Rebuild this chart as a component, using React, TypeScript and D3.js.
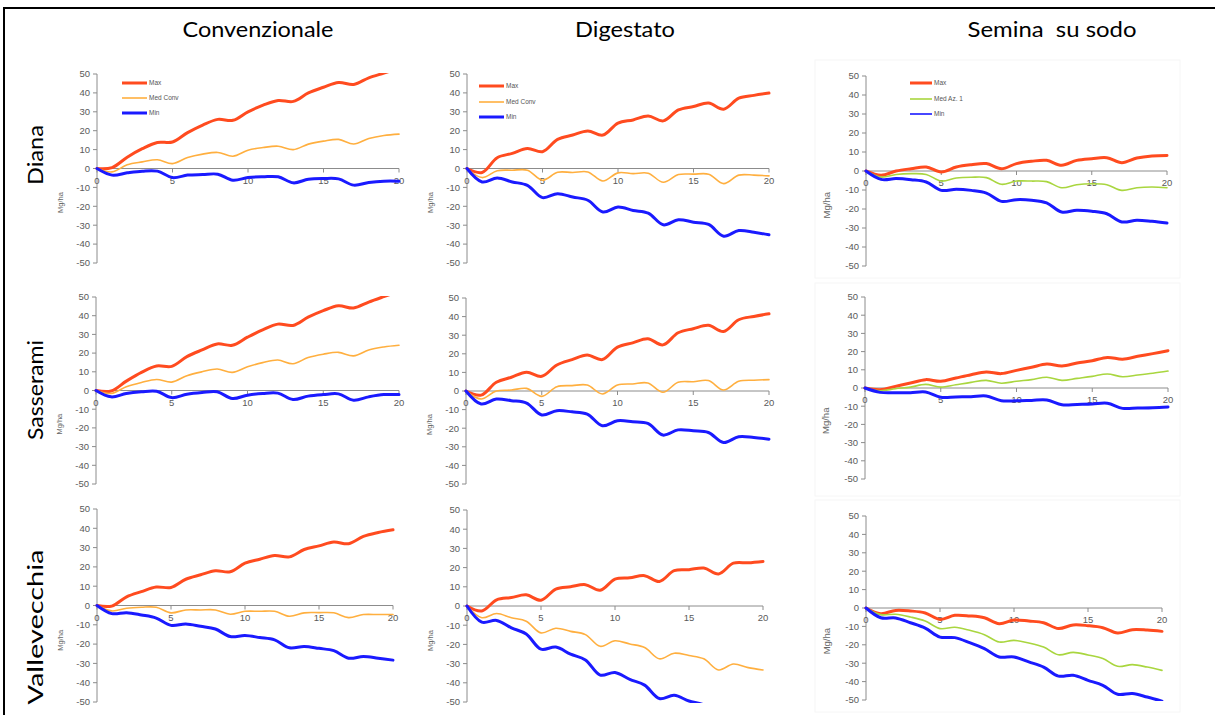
import React from "react";
import * as d3 from "d3";

// ---------- DATA ----------
const years = [0, 1, 2, 3, 4, 5, 6, 7, 8, 9, 10, 11, 12, 13, 14, 15, 16, 17, 18, 19, 20];
const columnTitles = ["Convenzionale", "Digestato", "Semina  su sodo"];
const rowTitles = ["Diana", "Sasserami", "Vallevecchia"];
const seriesNames = ["Max", "Med Conv", "Min"];
const seriesNamesSodo = ["Max", "Med Az. 1", "Min"];
const yTicks = [50, 40, 30, 20, 10, 0, -10, -20, -30, -40, -50];
const xTicks = [0, 5, 10, 15, 20];
const unitLabel = "Mg/ha";

// Diana
const dianaConvMax = [0, 0.5, 6, 10.5, 13.8, 14, 19, 23, 26, 25.5, 30, 33.5, 36, 35.5, 40, 43, 45.5, 44.5, 48, 50.5, 53];
const dianaConvMed = [0, -1.8, 2, 3.5, 4.6, 2.6, 5.8, 7.6, 8.5, 6.5, 9.7, 11.1, 11.8, 10, 12.9, 14.5, 15.4, 13, 15.9, 17.5, 18.2];
const dianaConvMin = [0, -3.5, -2.3, -1.4, -1.4, -4.8, -3.5, -3.2, -3, -6.2, -4.8, -4.4, -4.4, -7.6, -5.7, -5.3, -5.5, -8.8, -7.4, -6.7, -6.7];
const dianaDigMax = [0, -2.1, 5.7, 8, 10.6, 8.9, 15.4, 17.7, 19.9, 17.7, 24, 25.7, 27.8, 25.2, 31, 32.8, 34.6, 31.4, 37.2, 38.7, 39.9];
const dianaDigMed = [0, -4.8, -1.2, -0.9, -0.9, -6.2, -2, -2.1, -1.8, -6.6, -2.3, -2.7, -2.5, -7.3, -3.2, -3, -3, -8, -3.5, -3.5, -3.9];
const dianaDigMin = [0, -7.1, -5, -7.1, -8.9, -15.4, -13.3, -15.1, -16.8, -23, -20.4, -22.2, -23.6, -29.8, -27.1, -28.4, -29.6, -35.8, -32.8, -33.7, -35.1];
const dianaSodoMax = [0, -2.3, 0, 1.2, 2.1, -0.5, 2.1, 3.3, 3.9, 1.2, 3.9, 5.1, 5.6, 3, 5.6, 6.5, 7, 4.4, 6.8, 7.9, 8.2];
const dianaSodoMed = [0, -3.2, -1.8, -1.4, -1.8, -5.3, -3.7, -3.3, -3.5, -7, -5.3, -5.3, -5.6, -8.8, -7.2, -6.7, -7.2, -10.2, -8.8, -8.4, -8.8];
const dianaSodoMin = [0, -4.4, -4, -4.6, -5.8, -10.2, -9.6, -10.2, -11.6, -16, -15.1, -15.4, -16.8, -21.6, -20.7, -21.2, -22.5, -26.8, -25.9, -26.5, -27.4];

// Sasserami
const sasConvMax = [0, -0.3, 5, 9.7, 13.1, 12.9, 18.1, 21.7, 24.9, 24.2, 28.5, 32.4, 35.5, 34.8, 39.2, 42.7, 45.3, 44.1, 47.3, 50.2, 53];
const sasConvMed = [0, -1.6, 2, 4.3, 5.9, 4.5, 7.9, 10, 11.5, 9.7, 12.7, 14.9, 16.3, 14.3, 17.6, 19.4, 20.4, 18.5, 21.7, 23.3, 24.2];
const sasConvMin = [0, -3.4, -1.6, -0.7, -0.4, -3.8, -2, -1.1, -0.7, -4.3, -2.5, -1.6, -1.4, -4.8, -3, -2.2, -1.8, -5.2, -3.4, -2.2, -2.2];
const sasDigMax = [0, -2.2, 4.7, 7.4, 10.1, 7.9, 14, 16.9, 19.4, 16.9, 23.6, 25.9, 28.1, 24.8, 31.3, 33.5, 35.3, 32, 38.3, 40.1, 41.5];
const sasDigMed = [0, -4.3, 0, 0.5, 1.4, -2.9, 2.3, 2.9, 3.2, -1.6, 3.2, 3.8, 4.3, -0.7, 4.7, 5, 5.6, 0.5, 5.2, 5.8, 6.1];
const sasDigMin = [0, -7, -4.3, -5.2, -6.5, -12.9, -10.6, -11.2, -12.4, -18.7, -16, -16.5, -17.4, -23.7, -20.9, -21.4, -22.3, -27.7, -24.6, -25, -25.9];
const sasSodoMax = [0, -0.9, 0.9, 2.7, 4.6, 3.7, 5.5, 7.3, 8.8, 7.9, 9.7, 11.4, 13.2, 12.1, 13.7, 15, 16.8, 15.8, 17.4, 18.9, 20.5];
const sasSodoMed = [0, -1.5, -0.4, 0.5, 2, 0.5, 1.8, 3.1, 4.2, 2.6, 3.7, 4.6, 5.9, 4.2, 5.3, 6.4, 7.7, 6.2, 7.1, 8.1, 9.3];
const sasSodoMin = [0, -2.4, -2.6, -2.6, -2.2, -5.1, -4.9, -4.8, -4.4, -7, -7, -6.8, -6.6, -9.2, -9, -8.8, -8.4, -11.2, -11, -10.8, -10.4];

// Vallevecchia
const valConvMax = [0, -0.3, 4.5, 7.2, 9.6, 9.3, 13.6, 15.9, 18, 17.5, 21.9, 24, 25.9, 25.2, 29, 30.9, 32.9, 32, 35.8, 37.8, 39.2];
const valConvMed = [0, -2.8, -1.4, -0.9, -0.9, -3.8, -2.3, -2.3, -2.3, -4.5, -3, -3, -3, -5.6, -3.8, -3.7, -3.8, -6.3, -4.7, -4.7, -4.7];
const valConvMin = [0, -4.2, -3.7, -4.9, -6.5, -10.3, -9.6, -10.8, -12.2, -16.1, -15.6, -16.6, -17.8, -21.9, -21.2, -22.2, -23.4, -27.3, -26.4, -27.3, -28.3];
const valDigMax = [0, -2.6, 3.2, 4.4, 5.8, 3, 8.8, 10, 11.1, 8.2, 14, 14.7, 15.8, 12.8, 18.4, 18.9, 19.8, 16.7, 22.3, 22.5, 23.2];
const valDigMed = [0, -6.1, -3.9, -6.1, -7.9, -14, -11.6, -13.2, -14.9, -21, -18.1, -19.8, -21.6, -27.5, -24.6, -25.8, -27.5, -33.3, -30.2, -32.1, -33.3];
const valDigMin = [0, -8.4, -7.5, -11.4, -14.6, -22.5, -21.4, -25.1, -28.1, -36, -34.6, -38.2, -41.2, -48.2, -46.5, -49.5, -51.5, -57, -55, -57, -59];
const valSodoMax = [0, -3.1, -1.3, -1.6, -2.7, -6.2, -4, -4.3, -5.3, -8.5, -6.5, -7.1, -8, -11.2, -9.2, -9.6, -10.7, -13.6, -11.8, -12, -12.7];
const valSodoMed = [0, -3.6, -3.4, -4.9, -7.1, -11.2, -10.5, -12.1, -14.5, -18.5, -17.6, -19, -21.2, -25.4, -24.1, -25.5, -27.5, -31.7, -30.8, -32.1, -33.9];
const valSodoMin = [0, -5.3, -5.4, -8, -10.9, -15.8, -16.1, -18.8, -22.1, -26.6, -26.6, -29.3, -32.1, -37, -36.6, -39.3, -42, -46.9, -46.5, -48.4, -50.7];

const panelData = [
  [[dianaConvMax, dianaConvMed, dianaConvMin], [dianaDigMax, dianaDigMed, dianaDigMin], [dianaSodoMax, dianaSodoMed, dianaSodoMin]],
  [[sasConvMax, sasConvMed, sasConvMin], [sasDigMax, sasDigMed, sasDigMin], [sasSodoMax, sasSodoMed, sasSodoMin]],
  [[valConvMax, valConvMed, valConvMin], [valDigMax, valDigMed, valDigMin], [valSodoMax, valSodoMed, valSodoMin]],
];

// ---------- LAYOUT / STYLE ----------
const plotLeft = [[97, 467, 866], [96, 466, 865], [97, 467, 866]];
const plotRight = [[399, 769, 1167], [399, 769, 1168], [393, 763, 1162]];
const plotTop = [[74, 74, 76], [297, 298, 297], [509, 510, 516]];
const plotBottom = [[263, 263, 266], [484, 484, 479], [702, 702, 700]];
const colTitleWidths = [151, 100, 169];
const rowTitleLengths = [60, 100, 155];

const RED = "#ff4b1f";
const ORANGE = "#ffaf3f";
const BLUE = "#1a1aff";
const GREEN = "#a9d63f";
const AXIS = "#8c8c8c";
const TICKTXT = "#5a5a5a";
const tickFont = "'Liberation Sans', Arial, sans-serif";
const titleFont = "Lato, 'Open Sans', sans-serif";

function Panel({ r, c }: { r: number; c: number }) {
  const L = plotLeft[r][c], R = plotRight[r][c], T = plotTop[r][c], B = plotBottom[r][c];
  const x = d3.scaleLinear().domain([0, 20]).range([L, R]);
  const y = d3.scaleLinear().domain([-50, 50]).range([B, T]);
  const series = panelData[r][c];
  const colors = [RED, c === 2 ? GREEN : ORANGE, BLUE];
  const widths = [3, 1.6, 3];
  const line = d3
    .line<number>()
    .x((_, i) => x(years[i]))
    .y((d) => y(d))
    .curve(d3.curveCatmullRom.alpha(0.5));
  const clipId = `clip-${r}-${c}`;
  const names = c === 2 ? seriesNamesSodo : seriesNames;
  const legendX = c === 0 ? L + 25 : c === 1 ? L + 12 : L + 44;
  const legendY = c === 0 ? [T + 9, T + 24, T + 39] : c === 1 ? [T + 12, T + 28, T + 43] : [T + 7, T + 23, T + 38];
  const legendW = c === 2 ? 22 : 25;
  const labelOff = c === 2 ? 36 : 34;
  return (
    <g>
      <defs>
        <clipPath id={clipId}>
          <rect x={L - 2} y={T - 1} width={R - L + 4} height={B - T + 2} />
        </clipPath>
      </defs>
      <line x1={L} x2={L} y1={T} y2={B} stroke={AXIS} strokeWidth={1} />
      {yTicks.map((t) => (
        <g key={t}>
          <line x1={L - 4} x2={L} y1={y(t)} y2={y(t)} stroke={AXIS} strokeWidth={1} />
          <text x={L - 7} y={y(t)} dy="0.35em" textAnchor="end" fontSize={9.5} fill={TICKTXT} fontFamily={tickFont}>
            {t}
          </text>
        </g>
      ))}
      <line x1={L} x2={R} y1={y(0)} y2={y(0)} stroke={AXIS} strokeWidth={1} />
      {xTicks.map((t) => (
        <g key={t}>
          <line x1={x(t)} x2={x(t)} y1={y(0)} y2={y(0) + 4} stroke={AXIS} strokeWidth={1} />
          <text x={x(t)} y={y(0) + 15} textAnchor="middle" fontSize={9.5} fill={TICKTXT} fontFamily={tickFont}>
            {t}
          </text>
        </g>
      ))}
      <text
        transform={`translate(${L - labelOff},${y(-18)}) rotate(-90)`}
        textAnchor="middle"
        fontSize={c === 2 ? 9.5 : 7.5}
        fill="#666"
        fontFamily={tickFont}
      >
        {unitLabel}
      </text>
      <g clipPath={`url(#${clipId})`}>
        {series.map((s, i) => (
          <path key={i} d={line(s) || ""} fill="none" stroke={colors[i]} strokeWidth={widths[i]} strokeLinejoin="round" strokeLinecap="round" />
        ))}
      </g>
      {r === 0 &&
        names.map((n, i) => (
          <g key={n}>
            <line
              x1={legendX}
              x2={legendX + legendW}
              y1={legendY[i]}
              y2={legendY[i]}
              stroke={colors[i]}
              strokeWidth={c === 2 && i === 2 ? 1.6 : widths[i]}
            />
            <text x={legendX + legendW + 2} y={legendY[i]} dy="0.35em" fontSize={6.5} fill="#555" fontFamily={tickFont}>
              {n}
            </text>
          </g>
        ))}
    </g>
  );
}

export default function App() {
  const colCenters = [258, 625, 1052];
  const rowCenters = [155, 390, 627];
  return (
    <svg width={1215} height={715} style={{ position: "absolute", left: 0, top: 0, background: "#fff" }}>
      <rect x={0} y={0} width={1215} height={715} fill="#fff" />
      <rect x={815} y={60} width={365} height={218} fill="none" stroke="#f6f6f6" strokeWidth={1} />
      <rect x={815} y={283} width={365} height={213} fill="none" stroke="#f6f6f6" strokeWidth={1} />
      <rect x={815} y={500} width={365} height={212} fill="none" stroke="#f6f6f6" strokeWidth={1} />
      <line x1={4} x2={1215} y1={8} y2={8} stroke="#000" strokeWidth={2} />
      <line x1={4} x2={4} y1={7} y2={715} stroke="#000" strokeWidth={2} />
      {columnTitles.map((t, i) => (
        <text
          key={t}
          x={colCenters[i]}
          y={37}
          textAnchor="middle"
          fontSize={21}
          fontFamily={titleFont}
          fill="#000"
          textLength={colTitleWidths[i]}
          lengthAdjust="spacingAndGlyphs"
          style={{ whiteSpace: "pre" }}
        >
          {t}
        </text>
      ))}
      {rowTitles.map((t, i) => (
        <text
          key={t}
          transform={`translate(${43},${rowCenters[i]}) rotate(-90)`}
          textAnchor="middle"
          fontSize={22}
          fontFamily={titleFont}
          fill="#000"
          textLength={rowTitleLengths[i]}
          lengthAdjust="spacingAndGlyphs"
        >
          {t}
        </text>
      ))}
      {[0, 1, 2].map((r) => [0, 1, 2].map((c) => <Panel key={`${r}-${c}`} r={r} c={c} />))}
    </svg>
  );
}
